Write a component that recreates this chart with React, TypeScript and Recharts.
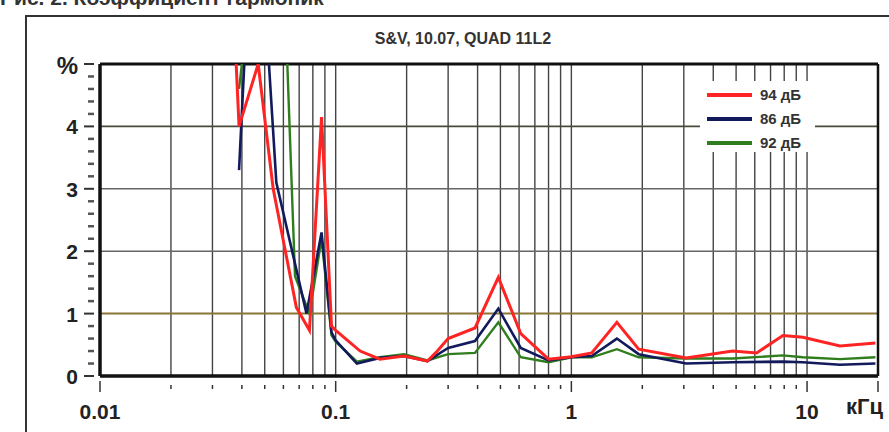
import { LineChart, Line, XAxis, YAxis, ReferenceLine } from "recharts";

const redFreq = [0.0375, 0.0389, 0.0469, 0.0543, 0.0681, 0.0774, 0.0871, 0.096, 0.1, 0.127, 0.154, 0.195, 0.245, 0.27, 0.3, 0.39, 0.49, 0.61, 0.8, 1.0, 1.22, 1.56, 1.93, 3.07, 4.83, 6.11, 7.9, 9.6, 13.8, 19.5];
const redPct = [5.3, 4.0, 5.0, 3.0, 1.1, 0.73, 4.15, 0.8, 0.73, 0.4, 0.27, 0.32, 0.24, 0.4, 0.6, 0.77, 1.58, 0.68, 0.27, 0.31, 0.37, 0.86, 0.43, 0.29, 0.4, 0.37, 0.65, 0.62, 0.48, 0.53];

const navyFreq = [0.0389, 0.0417, 0.046, 0.0517, 0.056, 0.0752, 0.0871, 0.096, 0.1, 0.123, 0.154, 0.195, 0.245, 0.3, 0.39, 0.49, 0.61, 0.8, 1.0, 1.22, 1.56, 1.93, 3.07, 4.83, 7.9, 9.6, 13.8, 19.5];
const navyPct = [3.3, 5.6, 6.0, 5.2, 3.1, 1.0, 2.3, 0.7, 0.57, 0.2, 0.29, 0.32, 0.24, 0.45, 0.56, 1.08, 0.45, 0.25, 0.3, 0.32, 0.6, 0.35, 0.2, 0.22, 0.23, 0.22, 0.18, 0.2];

const greenFreq = [0.0389, 0.0417, 0.06, 0.0622, 0.0672, 0.0774, 0.0871, 0.096, 0.1, 0.123, 0.154, 0.195, 0.245, 0.3, 0.39, 0.49, 0.61, 0.8, 1.0, 1.22, 1.56, 1.93, 3.07, 4.83, 7.9, 9.6, 13.8, 19.5];
const greenPct = [4.6, 5.6, 5.6, 5.1, 1.6, 1.0, 2.2, 0.65, 0.55, 0.23, 0.3, 0.35, 0.25, 0.35, 0.37, 0.86, 0.3, 0.22, 0.3, 0.3, 0.43, 0.3, 0.28, 0.28, 0.33, 0.3, 0.27, 0.3];

const gridFreqs = [0.02, 0.03, 0.04, 0.05, 0.06, 0.07, 0.08, 0.09, 0.1, 0.2, 0.3, 0.4, 0.5, 0.6, 0.7, 0.8, 0.9, 1, 2, 3, 4, 5, 6, 7, 8, 9, 10];
const xTicks = [0.01, ...gridFreqs, 20];
const xLabels: Record<string, string> = { "0.01": "0.01", "0.1": "0.1", "1": "1", "10": "10" };
const yTicks = [0, 0.2, 0.4, 0.6, 0.8, 1, 1.2, 1.4, 1.6, 1.8, 2, 2.2, 2.4, 2.6, 2.8, 3, 3.2, 3.4, 3.6, 3.8, 4, 4.2, 4.4, 4.6, 4.8, 5];
const yGrid = [2, 3];

const series = [
  { name: "92 дБ", freq: greenFreq, pct: greenPct, color: "#2f7d1c", width: 2.4 },
  { name: "86 дБ", freq: navyFreq, pct: navyPct, color: "#121a5c", width: 2.6 },
  { name: "94 дБ", freq: redFreq, pct: redPct, color: "#ff2424", width: 3 },
];
const legendOrder = ["94 дБ", "86 дБ", "92 дБ"];

const font = "'Liberation Sans', Arial, sans-serif";

function XTick(props: any) {
  const { x, y, payload } = props;
  const v = payload.value;
  const label = xLabels[String(v)];
  const major = label !== undefined || v === 20;
  return (
    <g>
      <line x1={x} x2={x} y1={y + (major ? 5 : 9)} y2={y + (major ? 16 : 13)} stroke="#333" strokeWidth={1.5} />
      {label && (
        <text x={x} y={y + 43} textAnchor="middle" fontFamily={font} fontWeight={700} fontSize={21} fill="#222">
          {label}
        </text>
      )}
    </g>
  );
}

function YTick(props: any) {
  const { x, y, payload } = props;
  const v = payload.value;
  const isInt = Math.abs(v - Math.round(v)) < 1e-6;
  return (
    <g>
      <line x1={x - (isInt ? 16 : 12)} x2={x - 6} y1={y} y2={y} stroke={isInt ? "#333" : "#555"} strokeWidth={isInt ? 2 : 2.5} />
      {isInt && v < 5 && (
        <text x={x - 22} y={y + 8} textAnchor="end" fontFamily={font} fontWeight={700} fontSize={21} fill="#222">
          {v}
        </text>
      )}
      {v === 5 && (
        <text x={x - 22} y={y + 10} textAnchor="end" fontFamily={font} fontWeight={700} fontSize={24} fill="#222">
          %
        </text>
      )}
    </g>
  );
}

export default function App() {
  return (
    <div style={{ position: "absolute", left: 0, top: 0, width: 889, height: 432, background: "#fff", overflow: "hidden" }}>
      <div style={{ position: "absolute", left: 0, top: -14, fontFamily: font, fontWeight: 700, fontSize: 21, color: "#333", whiteSpace: "nowrap" }}>
        Рис. 2. Коэффициент гармоник
      </div>
      <div style={{ position: "absolute", left: 25, top: 15, width: 900, height: 440, border: "2px solid #333", boxSizing: "border-box" }} />
      <div style={{ position: "absolute", left: 0, top: 0 }}>
        <LineChart width={889} height={432} margin={{ top: 64, right: 11, bottom: 16, left: 30 }}>
          <XAxis
            dataKey="f"
            type="number"
            scale="log"
            domain={[0.01, 20]}
            ticks={xTicks}
            interval={0}
            allowDataOverflow
            height={40}
            tickSize={0}
            tickMargin={0}
            tick={<XTick />}
            axisLine={{ stroke: "#111", strokeWidth: 3.5 }}
            tickLine={false}
          />
          <YAxis
            type="number"
            domain={[0, 5]}
            ticks={yTicks}
            interval={0}
            allowDataOverflow
            width={70}
            tickSize={0}
            tickMargin={0}
            tick={<YTick />}
            axisLine={{ stroke: "#111", strokeWidth: 3.5 }}
            tickLine={false}
          />
          {gridFreqs.map((f) => (
            <ReferenceLine key={"vx" + f} x={f} stroke="#444" strokeWidth={1.4} />
          ))}
          {yGrid.map((v) => (
            <ReferenceLine key={"hy" + v} y={v} stroke="#666" strokeWidth={1.6} />
          ))}
          <ReferenceLine y={4} stroke="#4a4a3a" strokeWidth={1.8} />
          <ReferenceLine y={1} stroke="#8a7636" strokeWidth={2} />
          <ReferenceLine y={5} stroke="#111" strokeWidth={3} />
          <ReferenceLine x={20} stroke="#111" strokeWidth={2.5} />
          {series.map((s) => (
            <Line
              key={s.name}
              name={s.name}
              data={s.freq.map((f, i) => ({ f, v: s.pct[i] }))}
              dataKey="v"
              type="linear"
              stroke={s.color}
              strokeWidth={s.width}
              dot={false}
              isAnimationActive={false}
            />
          ))}
        </LineChart>
      </div>
      <div style={{ position: "absolute", left: 320, top: 30, width: 286, textAlign: "center", fontFamily: font, fontWeight: 700, fontSize: 16, color: "#333" }}>
        S&amp;V, 10.07, QUAD 11L2
      </div>
      <div style={{ position: "absolute", left: 700, top: 81, width: 115, height: 71, background: "#fff" }}>
        {legendOrder.map((name, i) => {
          const s = series.find((d) => d.name === name)!;
          return (
            <div key={name} style={{ position: "absolute", left: 7, top: 5 + i * 24, display: "flex", alignItems: "center" }}>
              <div style={{ width: 45, height: 4, background: s.color }} />
              <span style={{ marginLeft: 8, fontFamily: font, fontWeight: 700, fontSize: 15, color: "#333" }}>{name}</span>
            </div>
          );
        })}
      </div>
      <div style={{ position: "absolute", left: 846, top: 394, fontFamily: font, fontWeight: 700, fontSize: 22, color: "#222", whiteSpace: "nowrap" }}>
        кГц
      </div>
    </div>
  );
}
